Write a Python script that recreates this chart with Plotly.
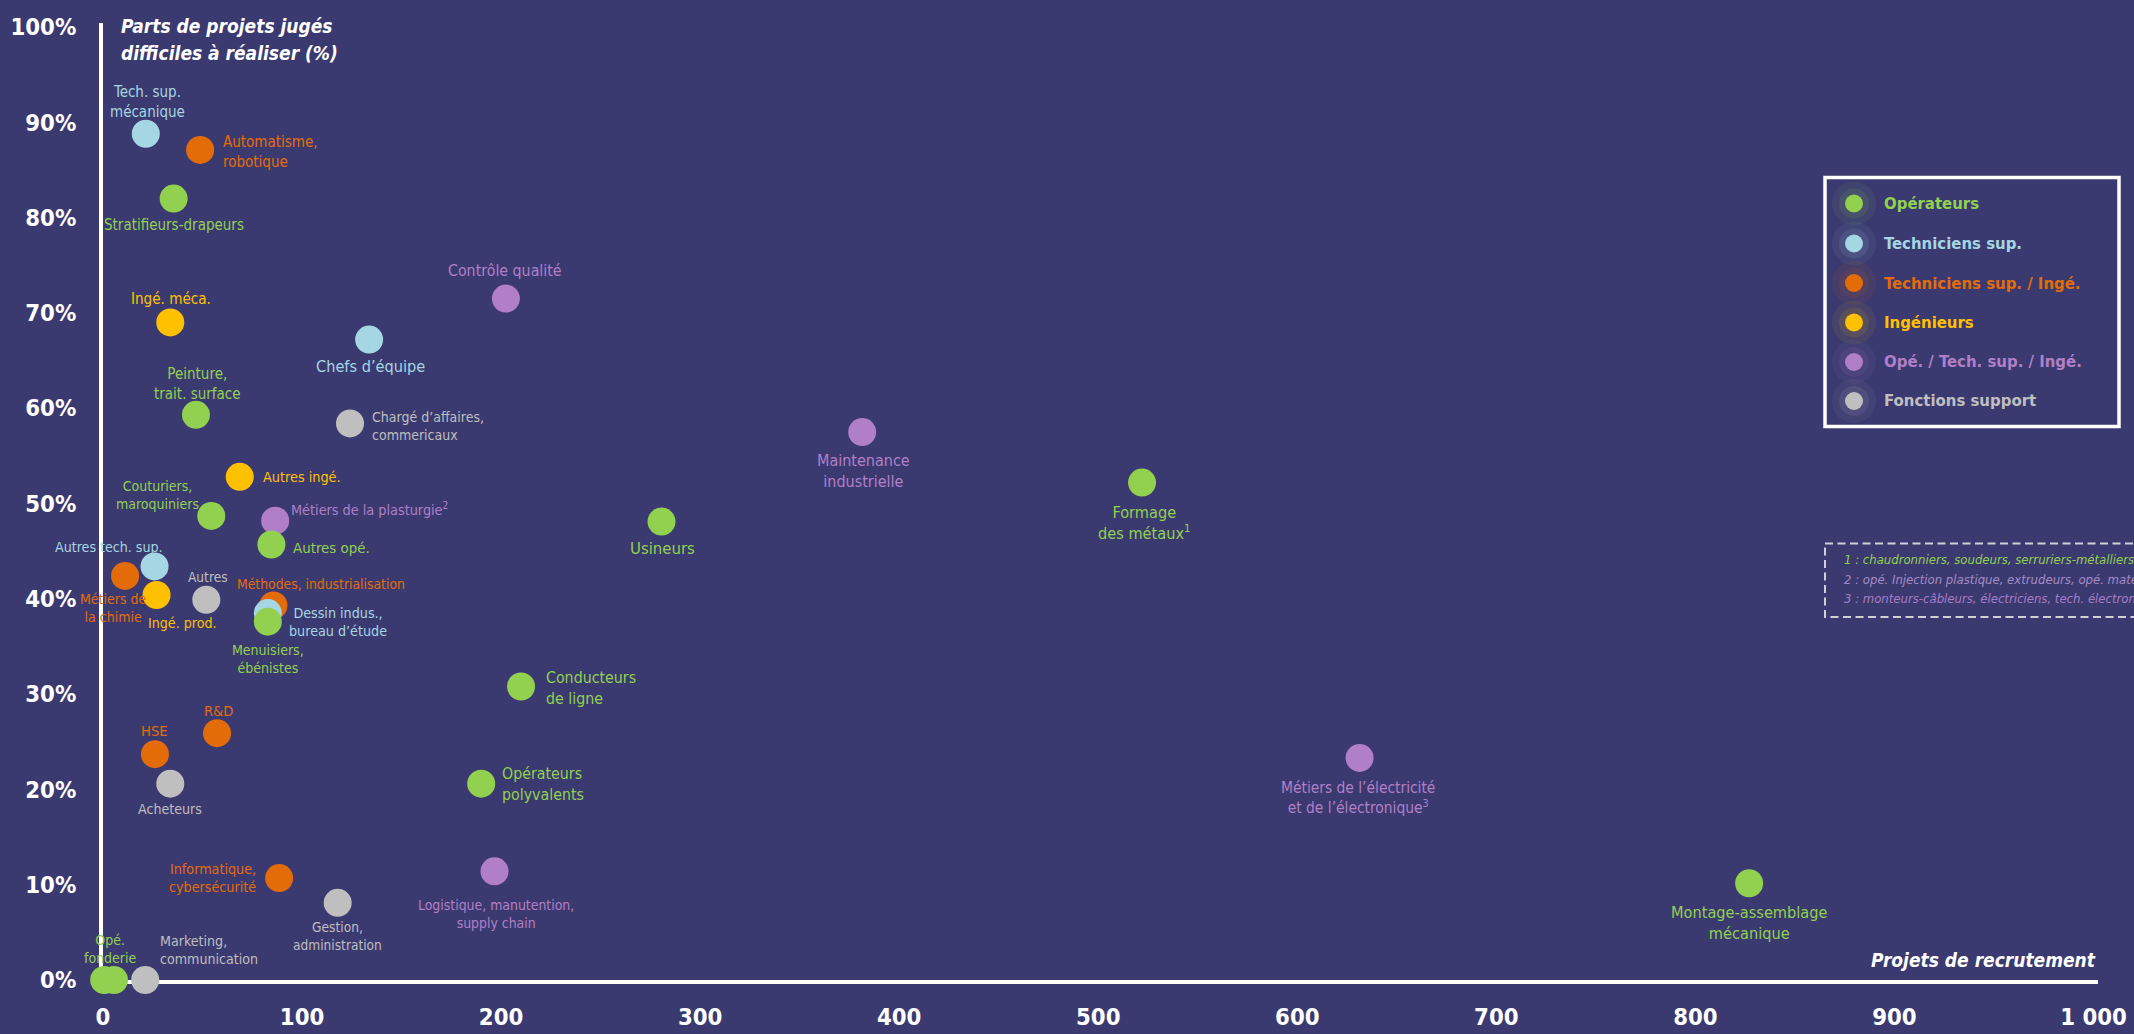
import plotly.graph_objects as go

FONT = "DejaVu Sans Condensed, Liberation Sans, Arial, sans-serif"
BG = "#3B3A70"
FS = 0.81   # regular text scale (condensed fallback vs. narrow reference font)
FB = 0.79   # bold text scale

# ---------------- data ----------------
categories = ["Opérateurs", "Techniciens sup.", "Techniciens sup. / Ingé.",
              "Ingénieurs", "Opé. / Tech. sup. / Ingé.", "Fonctions support"]
cat_colors = ["#92D050", "#A5D6E3", "#E36C09", "#FFC000", "#B17FC7", "#BFBFBF"]

op_names = ["Stratifieurs-drapeurs", "Peinture,<br>trait. surface", "Couturiers,<br>maroquiniers",
            "Autres opé.", "Menuisiers,<br>ébénistes", "Usineurs", "Conducteurs<br>de ligne",
            "Opérateurs<br>polyvalents", "Formage<br>des métaux<sup>1</sup>",
            "Montage-assemblage<br>mécanique", "", "Opé.<br>fonderie"]
op_x = [35.5, 46.7, 54.4, 84.6, 82.8, 280.6, 210, 190, 522, 827, 0.6, 5.5]
op_y = [82.0, 59.3, 48.7, 45.7, 37.6, 48.1, 30.8, 20.6, 52.2, 10.15, 0, 0]

ts_names = ["Tech. sup.<br>mécanique", "Chefs d’équipe", "Autres tech. sup.",
            "Dessin indus.,<br>bureau d’étude"]
ts_x = [21.5, 133.7, 25.9, 82.8]
ts_y = [88.8, 67.2, 43.4, 38.5]

tsi_names = ["Automatisme,<br>robotique", "Métiers de<br>la chimie", "Méthodes, industrialisation",
             "HSE", "R&D", "Informatique,<br>cybersécurité"]
tsi_x = [48.8, 11.1, 85.6, 26.1, 57.3, 88.5]
tsi_y = [87.1, 42.4, 39.3, 23.7, 25.9, 10.7]

ing_names = ["Ingé. méca.", "Autres ingé.", "Ingé. prod."]
ing_x = [33.8, 68.7, 26.9]
ing_y = [69.0, 52.8, 40.4]

mix_names = ["Contrôle qualité", "Métiers de la plasturgie<sup>2</sup>", "Maintenance<br>industrielle",
             "Logistique, manutention,<br>supply chain",
             "Métiers de l’électricité<br>et de l’électronique<sup>3</sup>"]
mix_x = [202.4, 86.5, 381.4, 196.7, 631.3]
mix_y = [71.5, 48.2, 57.5, 11.4, 23.3]

sup_names = ["Chargé d’affaires,<br>commericaux", "Autres", "Acheteurs",
             "Gestion,<br>administration", "Marketing,<br>communication"]
sup_x = [124.1, 51.9, 33.8, 117.9, 21.2]
sup_y = [58.4, 39.9, 20.6, 8.1, 0]

x_tickvals = [0, 100, 200, 300, 400, 500, 600, 700, 800, 900, 1000]
x_ticktext = ["0", "100", "200", "300", "400", "500", "600", "700", "800", "900", "1 000"]
y_tickvals = [0, 10, 20, 30, 40, 50, 60, 70, 80, 90, 100]
y_ticktext = ["0%", "10%", "20%", "30%", "40%", "50%", "60%", "70%", "80%", "90%", "100%"]

footnotes = ["1 : chaudronniers, soudeurs, serruriers-métalliers, tuyauteurs",
             "2 : opé. Injection plastique, extrudeurs, opé. matériaux composites",
             "3 : monteurs-câbleurs, électriciens, tech. électroniques"]
footnote_colors = ["#92D050", "#A58BC6", "#A77CC6"]

# ---------------- label placement (anchor, dx px, dy px downward, font size) ----------------
label_style = {
    "Stratifieurs-drapeurs": ("c", 0, 26, 18.5),
    "Peinture,<br>trait. surface": ("c", 2, -31, 18.5),
    "Couturiers,<br>maroquiniers": ("c", -54, -21, 17.3),
    "Autres opé.": ("l", 20, 4, 18.4),
    "Menuisiers,<br>ébénistes": ("c", 0, 37, 17.3),
    "Usineurs": ("c", 1, 27, 20.5),
    "Conducteurs<br>de ligne": ("l", 23, 2, 19.5),
    "Opérateurs<br>polyvalents": ("l", 19, 0, 19.5),
    "Formage<br>des métaux<sup>1</sup>": ("c", 2, 40, 20),
    "Montage-assemblage<br>mécanique": ("c", 0, 40, 20),
    "Opé.<br>fonderie": ("c", -3, -31, 17.3),
    "Tech. sup.<br>mécanique": ("c", 2, -32, 18.5),
    "Chefs d’équipe": ("c", 1, 27, 20),
    "Autres tech. sup.": ("c", -46, -19, 17.4),
    "Dessin indus.,<br>bureau d’étude": ("c", 70, 9, 17.5),
    "Automatisme,<br>robotique": ("l", 21, 2, 18.5),
    "Métiers de<br>la chimie": ("c", -12, 32, 17.3),
    "Méthodes, industrialisation": ("c", 48, -21, 17),
    "HSE": ("c", 0, -24, 18),
    "R&D": ("c", 1, -23, 18),
    "Informatique,<br>cybersécurité": ("r", -21, 0, 17.5),
    "Ingé. méca.": ("c", 1, -23, 18.6),
    "Autres ingé.": ("l", 21, 0, 17.7),
    "Ingé. prod.": ("c", 25, 28, 17.4),
    "Contrôle qualité": ("c", -1, -28, 19.5),
    "Métiers de la plasturgie<sup>2</sup>": ("l", 14, -12, 17.6),
    "Maintenance<br>industrielle": ("c", 1, 39, 19.8),
    "Logistique, manutention,<br>supply chain": ("c", 1, 43, 17.2),
    "Métiers de l’électricité<br>et de l’électronique<sup>3</sup>": ("c", -2, 40, 19),
    "Chargé d’affaires,<br>commericaux": ("l", 20, 3, 17.3),
    "Autres": ("c", 2, -23, 16.8),
    "Acheteurs": ("c", 0, 25, 17.4),
    "Gestion,<br>administration": ("c", 0, 33, 16.8),
    "Marketing,<br>communication": ("l", 13, -30, 17.4),
}

series = [
    (categories[0], cat_colors[0], op_names, op_x, op_y),
    (categories[1], cat_colors[1], ts_names, ts_x, ts_y),
    (categories[2], cat_colors[2], tsi_names, tsi_x, tsi_y),
    (categories[3], cat_colors[3], ing_names, ing_x, ing_y),
    (categories[4], cat_colors[4], mix_names, mix_x, mix_y),
    (categories[5], cat_colors[5], sup_names, sup_x, sup_y),
]
draw_order = [2, 1, 3, 4, 5, 0]

# ---------------- geometry ----------------
W, H = 2134, 1034
ML, MR, MT, MB = 103, 36, 23, 54
PW, PH = W - ML - MR, H - MT - MB
X_MAX = PW / 1.9905
Y_MAX = PH / 9.53


def px2x(px):
    return (px - ML) / PW


def py2y(py):
    return (H - MB - py) / PH


fig = go.Figure()
for i in draw_order:
    name, color, names, xs, ys = series[i]
    fig.add_trace(go.Scatter(
        x=xs, y=ys, mode="markers", name=name, text=names,
        marker=dict(size=28, color=color, line=dict(width=0)),
        cliponaxis=False, showlegend=False, hoverinfo="text+x+y",
    ))

annotations = []
for name, color, names, xs, ys in series:
    for n, xv, yv in zip(names, xs, ys):
        if not n:
            continue
        anchor, dx, dy, size = label_style[n]
        xanchor = {"c": "center", "l": "left", "r": "right"}[anchor]
        annotations.append(dict(
            x=xv, y=yv, xref="x", yref="y", text=n, showarrow=False,
            xanchor=xanchor, yanchor="middle", align=xanchor,
            xshift=dx, yshift=-dy,
            font=dict(family=FONT, size=round(size * FS, 1), color=color),
        ))

# axis titles
TS = round(24 * FB, 1)
annotations.append(dict(x=px2x(119), y=py2y(26), xref="paper", yref="paper",
                        text="<b><i>Parts de projets jugés</i></b>", showarrow=False,
                        xanchor="left", yanchor="middle",
                        font=dict(family=FONT, size=TS, color="white")))
annotations.append(dict(x=px2x(119), y=py2y(53), xref="paper", yref="paper",
                        text="<b><i>difficiles à réaliser (%)</i></b>", showarrow=False,
                        xanchor="left", yanchor="middle",
                        font=dict(family=FONT, size=TS, color="white")))
annotations.append(dict(x=px2x(2098), y=py2y(960), xref="paper", yref="paper",
                        text="<b><i>Projets de recrutement</i></b>", showarrow=False,
                        xanchor="right", yanchor="middle",
                        font=dict(family=FONT, size=TS, color="white")))

shapes = []
# legend
leg_y = [203.5, 243.5, 283, 322.5, 362, 401]
for k, c in enumerate(cat_colors):
    for r, op in [(22, 0.07), (15, 0.10)]:
        shapes.append(dict(type="circle", xref="paper", yref="paper",
                           xsizemode="pixel", ysizemode="pixel",
                           xanchor=px2x(1854), yanchor=py2y(leg_y[k]),
                           x0=-r, x1=r, y0=-r, y1=r,
                           fillcolor=c, opacity=op, line=dict(width=0)))
    shapes.append(dict(type="circle", xref="paper", yref="paper",
                       xsizemode="pixel", ysizemode="pixel",
                       xanchor=px2x(1854), yanchor=py2y(leg_y[k]),
                       x0=-9, x1=9, y0=-9, y1=9,
                       fillcolor=c, line=dict(width=0)))
    annotations.append(dict(x=px2x(1882), y=py2y(leg_y[k]), xref="paper", yref="paper",
                            text="<b>" + categories[k] + "</b>", showarrow=False,
                            xanchor="left", yanchor="middle",
                            font=dict(family=FONT, size=round(21 * FB, 1), color=c)))
shapes.append(dict(type="rect", xref="paper", yref="paper",
                   x0=px2x(1825), x1=px2x(2119), y0=py2y(177.5), y1=py2y(426.5),
                   line=dict(color="white", width=3.5)))

# footnote box
shapes.append(dict(type="rect", xref="paper", yref="paper",
                   x0=px2x(1825), x1=px2x(2220), y0=py2y(543.5), y1=py2y(617),
                   line=dict(color="#D0D0D8", width=2, dash="8px,4.5px")))
for k, (t, c) in enumerate(zip(footnotes, footnote_colors)):
    annotations.append(dict(x=px2x(1842), y=py2y(559.5 + 19.5 * k), xref="paper", yref="paper",
                            text="<i>" + t + "</i>", showarrow=False,
                            xanchor="left", yanchor="middle",
                            font=dict(family=FONT, size=round(16 * FS, 1), color=c)))

TICK = round(30 * FB, 1)
fig.update_layout(
    width=W, height=H,
    margin=dict(l=ML, r=MR, t=MT, b=MB, autoexpand=False),
    paper_bgcolor=BG, plot_bgcolor=BG,
    showlegend=False,
    annotations=annotations, shapes=shapes,
    xaxis=dict(range=[0, X_MAX], tickvals=x_tickvals, ticktext=x_ticktext,
               showgrid=False, zeroline=False, showline=True, linecolor="white", linewidth=4,
               ticks="", ticklabelstandoff=13, layer="below traces",
               tickfont=dict(family=FONT, size=TICK, color="white", weight="bold")),
    yaxis=dict(range=[0, Y_MAX], tickvals=y_tickvals, ticktext=y_ticktext,
               showgrid=False, zeroline=False, showline=True, linecolor="white", linewidth=4,
               ticks="", ticklabelstandoff=18, layer="below traces",
               tickfont=dict(family=FONT, size=TICK, color="white", weight="bold")),
)

fig.write_html(
    "out.html",
    config={"displayModeBar": False},
    post_script="document.body.style.margin='0';document.body.style.background='" + BG + "';",
)
